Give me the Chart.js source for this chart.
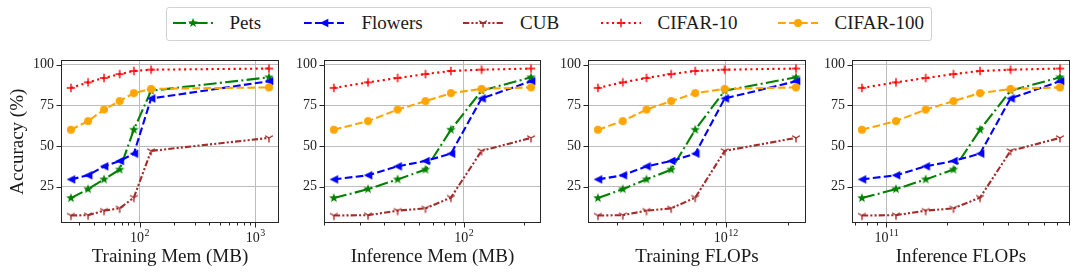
<!DOCTYPE html>
<html>
<head>
<meta charset="utf-8">
<script src="https://cdn.jsdelivr.net/npm/chart.js@4.4.1/dist/chart.umd.min.js"></script>
<style>
  body { margin: 0; width: 1079px; height: 275px; position: relative; overflow: hidden; background: #fff; font-family: 'Liberation Serif', serif; }
  canvas.plot { position: absolute; top: 45px; }
  #legend { position: absolute; left: 166px; top: 7px; width: 766px; height: 34px; box-sizing: border-box; border: 1px solid #d2d2d2; border-radius: 3px; background: #fff; }
  .sample { position: absolute; }
  .label { position: absolute; font-family: 'Liberation Serif', serif; font-size: 19px; line-height: 1; color: #1a1a1a; white-space: nowrap; }
</style>
</head>
<body>
<div id="legend"></div>
<canvas class="plot" id="c1"></canvas>
<canvas class="plot" id="c2"></canvas>
<canvas class="plot" id="c3"></canvas>
<canvas class="plot" id="c4"></canvas>

<script>
// Series names (shared legend)
const seriesNames = ['Pets', 'Flowers', 'CUB', 'CIFAR-10', 'CIFAR-100'];

// Accuracy (%) for each series, same 7 configurations in every panel
const petsAcc     = [18.0, 23.5, 29.5, 35.5, 60.0, 84.0, 92.2];
const flowersAcc  = [29.5, 32.0, 37.5, 40.8, 45.3, 79.2, 89.8];
const cubAcc      = [7.3, 7.5, 10.3, 11.7, 18.3, 47.0, 55.0];
const cifar10Acc  = [85.7, 89.1, 91.8, 94.2, 96.1, 96.9, 97.6];
const cifar100Acc = [60.0, 65.3, 72.4, 77.6, 82.5, 85.1, 86.0];

// x values per panel
const trainMem   = [25.5, 35.9, 49.3, 67.3, 89.3, 126, 1318];
const inferMem   = [22.3, 33.1, 46.6, 64.3, 86.3, 123, 218];
const trainFlops = [2.43e11, 3.2e11, 4.16e11, 5.47e11, 7.14e11, 9.9e11, 2.18e12];
const inferFlops = [7.57e10, 1.116e11, 1.566e11, 2.15e11, 2.91e11, 4.12e11, 7.24e11];

const xLabels = ['Training Mem (MB)', 'Inference Mem (MB)', 'Training FLOPs', 'Inference FLOPs'];
const yTicks = [25, 50, 75, 100];

const accs    = [petsAcc, flowersAcc, cubAcc, cifar10Acc, cifar100Acc];
const colors  = ['#008000', '#0000ff', '#a52a2a', '#ff0000', '#ffa500'];
const dashes  = [[13, 3.3, 2, 3.3], [7.7, 3.3], [6.3, 2.1, 2.1, 2.1, 2.1, 2.1], [2.1, 3.4], [7.7, 3.3]];
const markers = ['star', 'triLeft', 'triDown', 'plus', 'circle'];

const FONT = "'Liberation Serif', serif";
const TEXT = '#1a1a1a';
const GRID = '#bcbcbc';

Chart.defaults.font.family = FONT;

// Marker images, drawn once and reused as point styles
function makeMarker(kind, color) {
    const s = 14;
    const c = document.createElement('canvas');
    c.width = s; c.height = s;
    const g = c.getContext('2d');
    g.translate(s / 2, s / 2);
    g.fillStyle = color;
    g.strokeStyle = color;
    g.lineWidth = 1.4;
    g.beginPath();
    if (kind === 'star') {
        for (let i = 0; i < 10; i++) {
            const r = i % 2 === 0 ? 5 : 2.1;
            const a = -Math.PI / 2 + i * Math.PI / 5;
            g.lineTo(r * Math.cos(a), r * Math.sin(a));
        }
        g.closePath(); g.fill();
    } else if (kind === 'triLeft') {
        g.moveTo(-4.3, 0); g.lineTo(4.3, -4.3); g.lineTo(4.3, 4.3);
        g.closePath(); g.fill();
    } else if (kind === 'triDown') {
        g.moveTo(0, 0); g.lineTo(0, 4.5);
        g.moveTo(0, 0); g.lineTo(-3.9, -2.25);
        g.moveTo(0, 0); g.lineTo(3.9, -2.25);
        g.stroke();
    } else if (kind === 'plus') {
        g.moveTo(-4.2, 0); g.lineTo(4.2, 0);
        g.moveTo(0, -4.2); g.lineTo(0, 4.2);
        g.stroke();
    } else {
        g.arc(0, 0, 4, 0, Math.PI * 2);
        g.fill();
    }
    return c;
}
const markerImgs = markers.map((m, i) => makeMarker(m, colors[i]));

// Legend (HTML text, canvas samples)
const legendSampleX = [173, 304, 463, 601, 778];
const legendTextX   = [229.5, 361.5, 520, 657.5, 834.5];
const legend = document.getElementById('legend');
seriesNames.forEach((name, i) => {
    const c = document.createElement('canvas');
    c.width = 40; c.height = 14;
    c.className = 'sample';
    c.style.left = (legendSampleX[i] - 167) + 'px';
    c.style.top = (22.7 - 7 - 8) + 'px';
    const g = c.getContext('2d');
    g.strokeStyle = colors[i];
    g.lineWidth = 2.1;
    g.setLineDash(dashes[i]);
    g.beginPath(); g.moveTo(0, 7); g.lineTo(40, 7); g.stroke();
    g.drawImage(markerImgs[i], 20 - 7, 0);
    legend.appendChild(c);

    const t = document.createElement('span');
    t.className = 'label';
    t.textContent = name;
    t.style.left = (legendTextX[i] - 167) + 'px';
    t.style.top = (13 - 8) + 'px';
    legend.appendChild(t);
});

function logTicks(min, max) {
    const out = [];
    for (let e = Math.floor(Math.log10(min)); e <= Math.ceil(Math.log10(max)); e++) {
        for (let k = 1; k <= 9; k++) {
            const v = k * Math.pow(10, e);
            if (v >= min && v <= max) out.push({ value: v, major: k === 1 });
        }
    }
    return out;
}

function logRange(xs) {
    const lo = Math.log10(Math.min(...xs));
    const hi = Math.log10(Math.max(...xs));
    const m = (hi - lo) * 0.05;
    return [Math.pow(10, lo - m), Math.pow(10, hi + m)];
}

// Frame, tick marks and 10^k labels in matplotlib style
const framePlugin = {
    id: 'frame',
    afterDraw(chart) {
        const { ctx, chartArea: a, scales: { x, y } } = chart;
        const L = Math.round(a.left) + 0.5, R = Math.round(a.right) - 0.5;
        const T = Math.round(a.top) + 0.5, B = Math.round(a.bottom) - 0.5;
        ctx.save();
        ctx.strokeStyle = '#262626';
        ctx.lineWidth = 1;
        ctx.beginPath();
        x.ticks.forEach(t => {
            const px = Math.round(x.getPixelForValue(t.value)) + 0.5;
            ctx.moveTo(px, B);
            ctx.lineTo(px, B + (t.major ? 5 : 3));
        });
        y.ticks.forEach(t => {
            const py = Math.round(y.getPixelForValue(t.value)) + 0.5;
            ctx.moveTo(L - 5, py);
            ctx.lineTo(L, py);
        });
        ctx.stroke();
        ctx.strokeRect(L, T, R - L, B - T);

        ctx.fillStyle = TEXT;
        ctx.textBaseline = 'alphabetic';
        ctx.textAlign = 'left';
        x.ticks.filter(t => t.major).forEach(t => {
            const px = x.getPixelForValue(t.value);
            const exp = String(Math.round(Math.log10(t.value)));
            ctx.font = '14px ' + FONT;
            const wb = ctx.measureText('10').width;
            ctx.font = '10px ' + FONT;
            const we = ctx.measureText(exp).width;
            const x0 = px - (wb + we) / 2;
            ctx.font = '14px ' + FONT;
            ctx.fillText('10', x0, a.bottom + 18.7);
            ctx.font = '10px ' + FONT;
            ctx.fillText(exp, x0 + wb + 0.5, a.bottom + 12.5);
        });
        ctx.restore();
    }
};

// Panel geometry: plot area left/right in page pixels
const panelLeft  = [61, 324, 588, 852];
const panelRight = [281, 543, 808, 1072];
const panelXs = [trainMem, inferMem, trainFlops, inferFlops];
const CANVAS_H = 230;   // canvas top at 45
const PAD_TOP = 10;     // plot top at 55
const X_AXIS_H = 52;    // plot bottom at 223

panelXs.forEach((xs, p) => {
    const yW = p === 0 ? 61 : 44;
    const canvas = document.getElementById('c' + (p + 1));
    const width = yW + (panelRight[p] - panelLeft[p]) + 4;
    canvas.width = width;
    canvas.height = CANVAS_H;
    canvas.style.left = (panelLeft[p] - yW) + 'px';
    const [xmin, xmax] = logRange(xs);

    new Chart(canvas, {
        type: 'line',
        data: {
            datasets: seriesNames.map((name, i) => ({
                label: name,
                data: xs.map((x, j) => ({ x: x, y: accs[i][j] })),
                borderColor: colors[i],
                backgroundColor: colors[i],
                borderWidth: 2.1,
                borderDash: dashes[i],
                pointStyle: markerImgs[i],
                pointRadius: 4,
                fill: false,
                tension: 0,
                order: seriesNames.length - i
            }))
        },
        options: {
            responsive: false,
            animation: false,
            devicePixelRatio: 1,
            layout: { padding: { top: PAD_TOP, right: 4, left: 0, bottom: 0 } },
            plugins: { legend: { display: false }, tooltip: { enabled: false } },
            scales: {
                x: {
                    type: 'logarithmic',
                    min: xmin,
                    max: xmax,
                    afterBuildTicks: s => { s.ticks = logTicks(s.min, s.max); },
                    afterFit: s => { s.height = X_AXIS_H; },
                    ticks: { display: false, autoSkip: false },
                    grid: {
                        drawTicks: false,
                        lineWidth: 1,
                        color: ctx => (ctx.tick && ctx.tick.major) ? GRID : 'rgba(0,0,0,0)'
                    },
                    border: { display: false },
                    title: {
                        display: true,
                        text: xLabels[p],
                        color: TEXT,
                        font: { family: FONT, size: 19 },
                        padding: { top: 0, bottom: 6.6 }
                    }
                },
                y: {
                    type: 'linear',
                    min: 2.7,
                    max: 102.6,
                    afterBuildTicks: s => { s.ticks = yTicks.map(v => ({ value: v })); },
                    afterFit: s => { s.width = yW; },
                    ticks: { color: TEXT, font: { family: FONT, size: 14 }, padding: 7 },
                    grid: { drawTicks: false, lineWidth: 1, color: GRID },
                    border: { display: false },
                    title: {
                        display: p === 0,
                        text: 'Accuracy (%)',
                        color: TEXT,
                        font: { family: FONT, size: 19 },
                        padding: { top: 7, bottom: 0 }
                    }
                }
            }
        },
        plugins: [framePlugin]
    });
});
</script>
</body>
</html>
